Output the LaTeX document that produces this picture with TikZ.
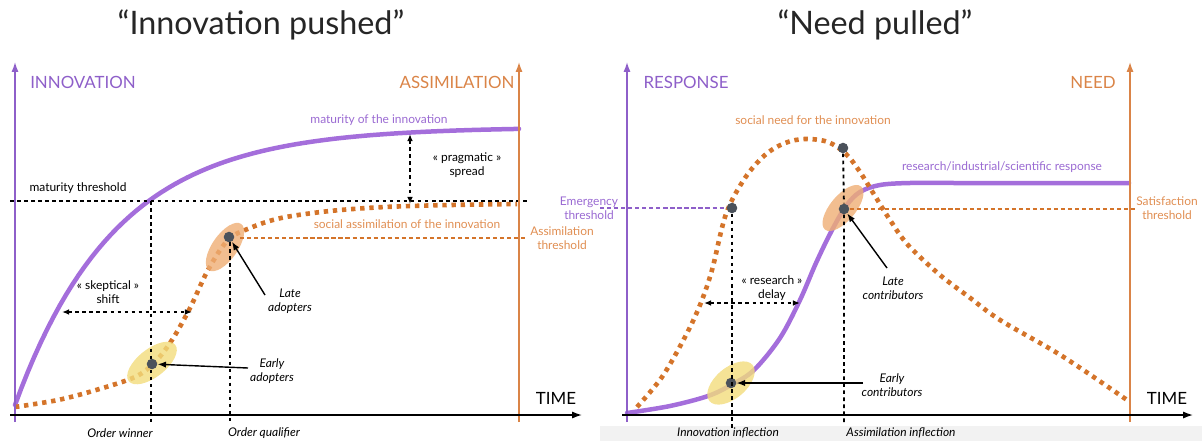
\documentclass[tikz,border=0pt]{standalone}
\usepackage{fontspec}
\setmainfont{Lato}
\usetikzlibrary{arrows.meta}
\definecolor{innpurple}{HTML}{A46EDB}
\definecolor{axpurple}{HTML}{8E5FC9}
\definecolor{lblpurple}{HTML}{9A6AD2}
\definecolor{assorange}{HTML}{D4742A}
\definecolor{axorange}{HTML}{DA8447}
\definecolor{lblorange}{HTML}{E08E52}
\definecolor{spotgray}{HTML}{4B525B}
\definecolor{earlyfill}{HTML}{F2DC7C}
\definecolor{latefill}{HTML}{EFAE74}
\begin{document}
\begin{tikzpicture}[x=0.025cm, y=-0.025cm,
  axisline/.style={line width=1pt, -{Latex[length=7pt,width=5pt]}},
  thresh/.style={line width=1.3pt, dash pattern=on 2.6pt off 2.4pt},
  gap/.style={thresh, {Latex[length=5pt,width=4pt]}-{Latex[length=5pt,width=4pt]}},
  solidcurve/.style={innpurple, line width=3.2pt, line cap=round},
  dotcurve/.style={assorange, line width=3.3pt, dash pattern=on 3.1pt off 3.4pt},
  spot/.style={circle, fill=spotgray, inner sep=0pt, minimum size=7.5pt},
  blob/.style={opacity=.8},
  pointer/.style={line width=1pt, -{Latex[length=6pt,width=4.5pt]}},
  lbl/.style={font=\fontsize{8.5}{10}\selectfont, align=center},
  ilbl/.style={lbl, font=\fontsize{8.5}{10}\selectfont\itshape},
  axislbl/.style={font=\fontsize{12}{14}\selectfont},
  heading/.style={font=\fontsize{23}{26}\selectfont, text=black!85}]
\useasboundingbox (0,0) rectangle (1202,441);
\fill[black!5] (600,426) rectangle (1202,441);

% innovation pushed
\node[heading] (titleL) at (261,25) {“Innovation pushed”};
\coordinate (yL0) at (15,422); \coordinate (yL) at (15,62);
\coordinate (zL0) at (519,422); \coordinate (zL) at (519,62);
\coordinate (xL0) at (10,415); \coordinate (xL) at (582,415);
\draw[solidcurve] plot[domain=15:519, samples=80] (\x, {405-278*(1-exp(-(\x-15)/101))});
\draw[dotcurve] plot[smooth, tension=0.55] coordinates {(15,407) (58,400) (96,390) (135,377) (155,362) (172,340) (190,308) (208,270) (228,240) (250,228) (281,218) (330,211) (385,207) (450,205) (517,204)};
\fill[earlyfill, blob, rotate around={38:(152,363)}] (152,363) ellipse [x radius=21pt, y radius=10pt];
\fill[latefill, blob, rotate around={55:(225,247)}] (225,247) ellipse [x radius=20pt, y radius=9pt];
\coordinate (matA) at (10,201); \coordinate (matB) at (530,201);
\coordinate (ow) at (151,201); \coordinate (owB) at (151,422);
\coordinate (oq) at (230,242); \coordinate (oqB) at (230,422);
\coordinate (asA) at (240,238); \coordinate (asB) at (527,238);
\coordinate (prA) at (410,134); \coordinate (prB) at (410,204);
\coordinate (skA) at (62,312); \coordinate (skB) at (192,312);
\draw[thresh] (matA) -- (matB);
\draw[thresh] (ow) -- (owB);
\draw[thresh] (oq) -- (oqB);
\draw[assorange, line width=1pt, dash pattern=on 3pt off 2pt] (asA) -- (asB);
\draw[gap] (prA) -- (prB);
\draw[gap] (skA) -- (skB);
\draw[axisline, axpurple] (yL0) -- (yL);
\draw[axisline, axorange] (zL0) -- (zL);
\draw[axisline, black] (xL0) -- (xL);
\node[spot] (earlyL) at (152,364) {};
\node[spot] (lateL) at (229,237) {};
\node[axislbl, axpurple] (innov) at (83,82) {INNOVATION};
\node[axislbl, axorange] (assim) at (457,82) {ASSIMILATION};
\node[axislbl] (timeL) at (556,398) {TIME};
\node[lbl, lblpurple] (matur) at (379,120) {maturity of the innovation};
\node[lbl] (matthr) at (78,188) {maturity threshold};
\node[lbl] (pragm) at (467,165) {« pragmatic »\\spread};
\node[lbl, lblorange] (social) at (407,224) {social assimilation of the innovation};
\node[lbl, lblorange] (assthr) at (562,238) {Assimilation\\threshold};
\node[lbl] (skept) at (108,292) {« skeptical »\\shift};
\node[ilbl] (lateLbl) at (290,301) {Late\\adopters};
\node[ilbl] (earlyLbl) at (272,371) {Early\\adopters};
\node[ilbl] (owLbl) at (120,433) {Order winner};
\node[ilbl] (oqLbl) at (264,433) {Order qualifier};
\coordinate (lateArr) at (265,295);
\coordinate (earlyArr) at (248,368);
\draw[pointer] (lateArr) -- (lateL);
\draw[pointer] (earlyArr) -- (earlyL);

% need pulled
\node[heading] (titleR) at (875,25) {“Need pulled”};
\coordinate (yR0) at (627,422); \coordinate (yR) at (627,62);
\coordinate (zR0) at (1130,422); \coordinate (zR) at (1130,62);
\coordinate (xR0) at (622,415); \coordinate (xR) at (1193,415);
\draw[solidcurve] plot[smooth, tension=0.55] coordinates {(627,413) (670,406) (708,396) (731,385) (754,370) (780,338) (800,300) (816,263) (831,232) (846,206) (860,192) (880,185) (910,183) (960,183) (1129,183)};
\draw[dotcurve] plot[smooth, tension=0.55] coordinates {(637,407) (662,377) (685,337) (700,305) (712,270) (726,214) (745,178) (765,155) (785,143) (805,139) (828,142) (846,154) (860,172) (875,196) (890,220) (908,245) (940,275) (969,297) (1000,320) (1062,356) (1127,400)};
\fill[earlyfill, blob, rotate around={40:(731,383)}] (731,383) ellipse [x radius=20pt, y radius=11pt];
\fill[latefill, blob, rotate around={50:(843,208)}] (843,208) ellipse [x radius=20pt, y radius=9pt];
\coordinate (emA) at (600,208); \coordinate (emB) at (728,208);
\coordinate (iiB) at (732,430);
\coordinate (aiB) at (844,425);
\coordinate (saA) at (850,209); \coordinate (saB) at (1135,209);
\coordinate (rdA) at (704,303); \coordinate (rdB) at (800,303);
\draw[axpurple, line width=1pt, dash pattern=on 3pt off 2pt] (emA) -- (emB);
\draw[assorange, line width=1pt, dash pattern=on 3pt off 2pt] (saA) -- (saB);
\node[spot] (emerg) at (732,208) {};
\node[spot] (peak) at (843,148) {};
\node[spot] (lateR) at (844,209) {};
\node[spot] (earlyR) at (731,383) {};
\draw[thresh] (emerg) -- (iiB);
\draw[thresh] (peak) -- (lateR) -- (aiB);
\draw[gap] (rdA) -- (rdB);
\draw[axisline, axpurple] (yR0) -- (yR);
\draw[axisline, axorange] (zR0) -- (zR);
\draw[axisline, black] (xR0) -- (xR);
\node[axislbl, axpurple] (resp) at (686,82) {RESPONSE};
\node[axislbl, axorange] (need) at (1093,82) {NEED};
\node[axislbl] (timeR) at (1167,398) {TIME};
\node[lbl, lblorange] (socneed) at (813,120) {social need for the innovation};
\node[lbl, lblpurple] (rsresp) at (1002,167) {research/industrial/scientific response};
\node[lbl, lblpurple] (emthr) at (589,208) {Emergency\\threshold};
\node[lbl, lblorange] (sathr) at (1167,208) {Satisfaction\\threshold};
\node[lbl] (delay) at (772,288) {« research »\\delay};
\node[ilbl] (lateRLbl) at (893,288) {Late\\contributors};
\node[ilbl] (earlyRLbl) at (892,385) {Early\\contributors};
\node[ilbl] (iiLbl) at (728,433) {Innovation inflection};
\node[ilbl] (aiLbl) at (901,433) {Assimilation inflection};
\coordinate (lateRArr) at (887,268);
\coordinate (earlyRArr) at (863,383);
\draw[pointer] (lateRArr) -- (lateR);
\draw[pointer] (earlyRArr) -- (earlyR);
\end{tikzpicture}
\end{document}
